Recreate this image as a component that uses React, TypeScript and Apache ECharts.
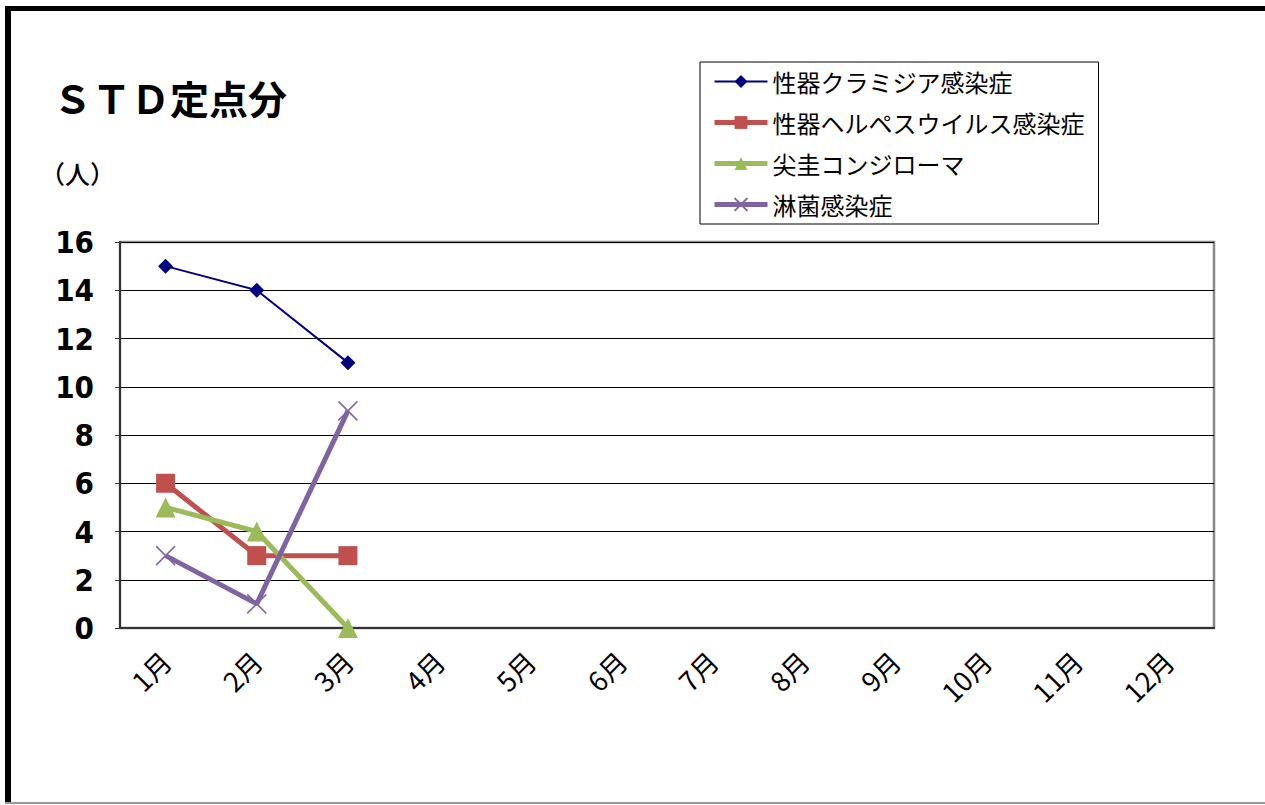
import React, { useEffect, useRef } from "react";
import * as echarts from "echarts";

const months = ["1月", "2月", "3月", "4月", "5月", "6月", "7月", "8月", "9月", "10月", "11月", "12月"];
const seriesNames = ["性器クラミジア感染症", "性器ヘルペスウイルス感染症", "尖圭コンジローマ", "淋菌感染症"];
const chlamydia = [15, 14, 11];
const herpes = [6, 3, 3];
const condyloma = [5, 4, 0];
const gonorrhea = [3, 1, 9];
const yMin = 0;
const yMax = 16;
const yStep = 2;

const jp = '"Noto Sans CJK JP", "Noto Sans", sans-serif';
const narrow = '"Liberation Sans Narrow", "DejaVu Sans Condensed", "Liberation Sans", sans-serif';

export default function App() {
  const ref = useRef<HTMLDivElement>(null);
  useEffect(() => {
    if (!ref.current) return;
    const chart = echarts.init(ref.current, null, { renderer: "svg" });
    const widths = [2, 5, 5, 5];
    chart.setOption({
      animation: false,
      title: {
        text: "ＳＴＤ定点分",
        left: 48,
        top: 72,
        textStyle: { fontFamily: jp, fontSize: 39, fontWeight: "bold", color: "#000" },
      },
      graphic: [
        {
          type: "text",
          left: 40,
          top: 160,
          style: { text: "（人）", font: `500 25px ${jp}`, fill: "#000" },
        },
      ],
      legend: {
        orient: "vertical",
        left: 700,
        top: 62,
        padding: [7, 14, 7, 12],
        itemGap: 16,
        itemWidth: 53,
        itemHeight: 16,
        borderColor: "#000",
        borderWidth: 1,
        data: seriesNames.map((n, i) => ({ name: n, lineStyle: { width: widths[i] } })),
        textStyle: { fontFamily: jp, fontSize: 24, color: "#000", lineHeight: 25 },
      },
      grid: {
        left: 120,
        top: 242,
        right: 51,
        bottom: 177,
        show: true,
        borderColor: "#888",
        borderWidth: 2.5,
        containLabel: false,
      },
      xAxis: {
        type: "category",
        data: months,
        boundaryGap: true,
        axisLine: { lineStyle: { color: "#333", width: 2 } },
        axisTick: { inside: true, length: 8, lineStyle: { color: "#333", width: 1 } },
        axisLabel: {
          rotate: 45,
          margin: 28,
          fontFamily: jp,
          fontSize: 27,
          color: "#000",
        },
        splitLine: { show: false },
      },
      yAxis: {
        type: "value",
        min: yMin,
        max: yMax,
        interval: yStep,
        axisLine: { show: true, lineStyle: { color: "#333", width: 2 } },
        axisTick: { show: true, length: 5, lineStyle: { color: "#333" } },
        axisLabel: {
          margin: 26,
          fontFamily: narrow,
          fontWeight: "bold",
          fontSize: 31,
          color: "#000",
        },
        splitLine: { lineStyle: { color: "#000", width: 1 } },
      },
      series: [
        {
          name: seriesNames[0],
          type: "line",
          data: chlamydia,
          symbol: "diamond",
          symbolSize: 15,
          lineStyle: { color: "#000080", width: 2 },
          itemStyle: { color: "#000080" },
        },
        {
          name: seriesNames[1],
          type: "line",
          data: herpes,
          symbol: "rect",
          symbolSize: 19,
          lineStyle: { color: "#C0504D", width: 5 },
          itemStyle: { color: "#C0504D" },
        },
        {
          name: seriesNames[2],
          type: "line",
          data: condyloma,
          symbol: "triangle",
          symbolSize: 20,
          lineStyle: { color: "#9BBB59", width: 5 },
          itemStyle: { color: "#9BBB59" },
        },
        {
          name: seriesNames[3],
          type: "line",
          data: gonorrhea,
          symbol: "path://M0,0L10,10M10,0L0,10",
          symbolSize: 19,
          lineStyle: { color: "#8064A2", width: 5 },
          itemStyle: { color: "#8064A2", borderColor: "#8064A2", borderWidth: 1.5 },
        },
      ],
    });
    return () => chart.dispose();
  }, []);

  return (
    <div style={{ position: "fixed", left: 0, top: 0, width: 1265, height: 805, background: "#fff", overflow: "hidden" }}>
      <div ref={ref} style={{ position: "absolute", left: 0, top: 0, width: 1265, height: 805 }} />
      <div style={{ position: "absolute", left: 5, top: 6, width: 1260, height: 5, background: "#000", pointerEvents: "none" }} />
      <div style={{ position: "absolute", left: 5, top: 6, width: 6, height: 797, background: "#000", pointerEvents: "none" }} />
      <div style={{ position: "absolute", left: 5, top: 802, width: 1260, height: 2, background: "#999", pointerEvents: "none" }} />
    </div>
  );
}
